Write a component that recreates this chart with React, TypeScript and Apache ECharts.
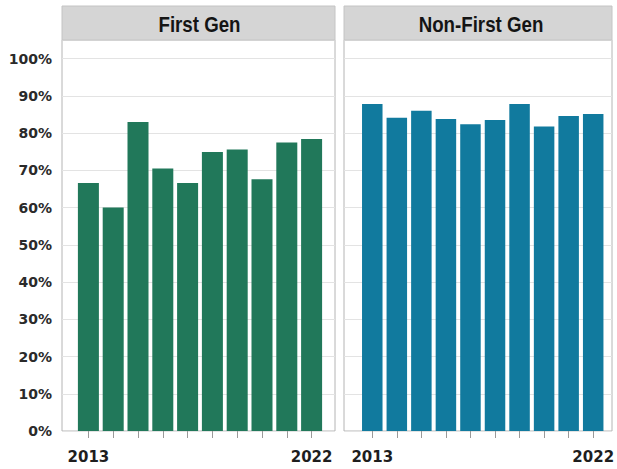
import React, { useEffect, useRef } from "react";
import * as echarts from "echarts";

const years = ["2013", "2014", "2015", "2016", "2017", "2018", "2019", "2020", "2021", "2022"];
const firstGen = [66.6, 60.0, 83.0, 70.5, 66.6, 74.9, 75.6, 67.6, 77.5, 78.4];
const nonFirstGen = [87.8, 84.1, 86.0, 83.8, 82.4, 83.5, 87.8, 81.8, 84.6, 85.1];
const panelTitles = ["First Gen", "Non-First Gen"];
const yTicks = [0, 10, 20, 30, 40, 50, 60, 70, 80, 90, 100];

const GREEN = "#21785a";
const BLUE = "#117a9e";
const FONT = "'DejaVu Sans', sans-serif";
const TITLE_FONT = "'Liberation Sans', Arial, sans-serif";

export default function App() {
  const ref = useRef<HTMLDivElement>(null);
  useEffect(() => {
    if (!ref.current) return;
    const chart = echarts.init(ref.current, undefined, { renderer: "svg" });
    const top = 40;
    const height = 391;
    const yMax = 105;
    const bg = [
      { left: 62, width: 273 },
      { left: 344, width: 268 },
    ];
    const barGrids = [
      { left: 76, width: 248, barWidth: 21 },
      { left: 360, width: 247, barWidth: 20.5 },
    ];
    const grids: any[] = [];
    const xAxes: any[] = [];
    const yAxes: any[] = [];
    const series: any[] = [];
    bg.forEach((b, i) => {
      grids.push({ left: b.left, top, width: b.width, height, show: true, borderColor: "#b4b4b4", borderWidth: 1, backgroundColor: "#ffffff" });
      xAxes.push({ gridIndex: i, type: "value", show: false, min: 0, max: 1 });
      yAxes.push({
        gridIndex: i,
        type: "value",
        min: 0,
        max: yMax,
        interval: 10,
        axisLine: { show: false },
        axisTick: { show: false },
        splitLine: { show: true, lineStyle: { color: "#e3e3e3", width: 1 } },
        axisLabel: {
          show: i === 0,
          margin: 10,
          color: "#2a2a2a",
          fontFamily: FONT,
          fontWeight: "bold",
          fontSize: 14,
          formatter: (v: number) => (yTicks.indexOf(v) >= 0 ? v + "%" : ""),
        },
      });
    });
    const datas = [firstGen, nonFirstGen];
    const colors = [GREEN, BLUE];
    barGrids.forEach((g, i) => {
      const gi = grids.length;
      grids.push({ left: g.left, top, width: g.width, height });
      xAxes.push({
        gridIndex: gi,
        type: "category",
        data: years,
        offset: 2,
        axisLine: { show: false },
        axisTick: { show: true, alignWithLabel: true, length: 7, lineStyle: { color: "#9a9a9a" } },
        axisLabel: {
          interval: 0,
          margin: 16,
          color: "#1e1e1e",
          fontFamily: FONT,
          fontWeight: "bold",
          fontSize: 15,
          formatter: (v: string, idx: number) => (idx === 0 || idx === years.length - 1 ? v : ""),
        },
        splitLine: { show: false },
      });
      yAxes.push({ gridIndex: gi, type: "value", min: 0, max: yMax, show: false, splitLine: { show: false } });
      series.push({
        type: "bar",
        xAxisIndex: gi,
        yAxisIndex: gi,
        data: datas[i],
        barWidth: g.barWidth,
        itemStyle: { color: colors[i] },
      });
    });
    const graphic: any[] = [];
    bg.forEach((b, i) => {
      graphic.push({
        type: "rect",
        shape: { x: b.left, y: 6, width: b.width, height: 34 },
        style: { fill: "#d5d5d5", stroke: "#c4c4c4", lineWidth: 1 },
        z: 10,
      });
      graphic.push({
        type: "text",
        x: b.left + b.width / 2 + (i === 0 ? 1 : 3),
        y: 24,
        scaleX: 0.85,
        style: {
          text: panelTitles[i],
          fill: "#141414",
          font: `bold 22px ${TITLE_FONT}`,
          textAlign: "center",
          textVerticalAlign: "middle",
        },
        z: 11,
      });
    });
    chart.setOption({
      animation: false,
      backgroundColor: "#ffffff",
      grid: grids,
      xAxis: xAxes,
      yAxis: yAxes,
      series,
      graphic,
    });
    return () => chart.dispose();
  }, []);
  return <div ref={ref} style={{ position: "fixed", left: 0, top: 0, width: 617, height: 469 }} />;
}
